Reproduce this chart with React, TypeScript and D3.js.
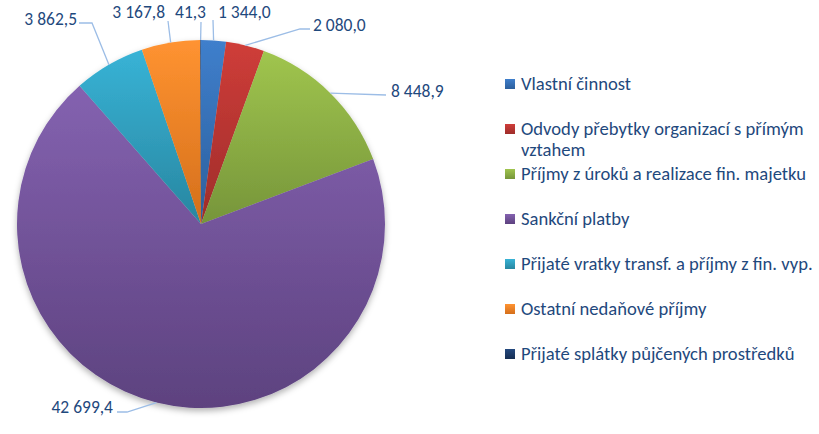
import React from 'react'
import * as d3 from 'd3'

// slice data, clockwise from 12 o'clock
const categories = [
  'Vlastní činnost',
  'Odvody přebytky organizací s přímým vztahem',
  'Příjmy z úroků a realizace fin. majetku',
  'Sankční platby',
  'Přijaté vratky transf. a příjmy z fin. vyp.',
  'Ostatní nedaňové příjmy',
  'Přijaté splátky půjčených prostředků',
]
const values = [1344.0, 2080.0, 8448.9, 42699.4, 3862.5, 3167.8, 41.3]
// legend lines (manual wrap like the original)
const legendLines = [
  ['Vlastní činnost'],
  ['Odvody přebytky organizací s přímým', 'vztahem'],
  ['Příjmy z úroků a realizace fin. majetku'],
  ['Sankční platby'],
  ['Přijaté vratky transf. a příjmy z fin. vyp.'],
  ['Ostatní nedaňové příjmy'],
  ['Přijaté splátky půjčených prostředků'],
]

// gradient stops per slice [top, bottom]
const colors = [
  ['#3f7fcc', '#2c5f9c'],
  ['#cf3d39', '#9e2d2a'],
  ['#a0c54e', '#76953a'],
  ['#8462b0', '#5d427f'],
  ['#38b3d6', '#2886a0'],
  ['#ff9331', '#d46f1b'],
  ['#24497f', '#162e52'],
]

// label placement: text x, baseline, anchor, elbow and end of leader line
const labelLayout = [
  { x: 218, y: 18, anchor: 'start', pts: [[213, 20]] },
  { x: 313, y: 31, anchor: 'start', pts: [[300, 29], [310, 29]] },
  { x: 391, y: 97, anchor: 'start', pts: [[386, 95]] },
  { x: 113, y: 413, anchor: 'end', pts: [[127, 412], [117, 412]] },
  { x: 77, y: 25, anchor: 'end', pts: [[92, 23], [79, 23]] },
  { x: 165, y: 18, anchor: 'end', pts: [[168, 21]] },
  { x: 206, y: 18, anchor: 'end', pts: [[201, 22]] },
]

const fmt = (v: number) => {
  const s = d3.format(',.1f')(v)
  return s.replace(',', ' ').replace('.', ',')
}

const W = 819
const H = 434
const cx = 201
const cy = 224
const R = 184
const font = 'Carlito, Lato, sans-serif'
const textColor = '#1f497d'

export default function App() {
  const pie = d3.pie<number>().sort(null).value(d => d)
  const arcs = pie(values)
  const arc = d3.arc<d3.PieArcDatum<number>>().innerRadius(0).outerRadius(R)

  const legendY = d3.scalePoint<number>()
    .domain(d3.range(categories.length))
    .range([84, 354])

  return (
    <svg width={W} height={H} style={{ position: 'absolute', left: 0, top: 0, background: '#fff' }}>
      <defs>
        {colors.map((c, i) => (
          <linearGradient key={i} id={'g' + i} x1="0" y1="0" x2="0" y2="1">
            <stop offset="0" stopColor={c[0]} />
            <stop offset="1" stopColor={c[1]} />
          </linearGradient>
        ))}
        <filter id="shadow" x="-10%" y="-10%" width="120%" height="125%">
          <feDropShadow dx="0" dy="3" stdDeviation="3" floodColor="#000" floodOpacity="0.3" />
        </filter>
      </defs>

      <g transform={`translate(${cx},${cy})`} filter="url(#shadow)">
        {arcs.map((a, i) => (
          <path key={i} d={arc(a) || ''} fill={`url(#g${i})`} />
        ))}
      </g>

      {/* leader lines + value labels */}
      <g>
        {arcs.map((a, i) => {
          const mid = (a.startAngle + a.endAngle) / 2
          const sx = cx + R * Math.sin(mid)
          const sy = cy - R * Math.cos(mid)
          const L = labelLayout[i]
          const line = d3.line()([[sx, sy], ...(L.pts as [number, number][])])
          return (
            <g key={i}>
              <path d={line || ''} fill="none" stroke="#9cbde6" strokeWidth={1.3} />
              <text x={L.x} y={L.y} textAnchor={L.anchor} fontFamily={font} fontSize={17.5} fill={textColor}>
                {fmt(values[i])}
              </text>
            </g>
          )
        })}
      </g>

      {/* legend */}
      <g>
        {categories.map((c, i) => {
          const y = legendY(i) as number
          return (
            <g key={c}>
              <rect x={505} y={y - 5} width={10} height={10} fill={`url(#g${i})`} />
              {legendLines[i].map((t, j) => (
                <text key={j} x={521} y={y + 6 + j * 21} fontFamily={font} fontSize={18.6} fill={textColor}>
                  {t}
                </text>
              ))}
            </g>
          )
        })}
      </g>
    </svg>
  )
}
